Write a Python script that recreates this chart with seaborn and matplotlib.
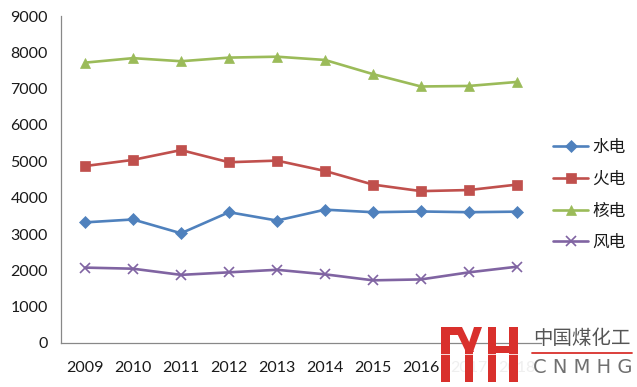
import matplotlib
matplotlib.use("Agg")
import matplotlib.pyplot as plt
from matplotlib.patches import Polygon
from matplotlib.transforms import Affine2D
import seaborn as sns
import pandas as pd

years = ["2009", "2010", "2011", "2012", "2013", "2014", "2015", "2016", "2017", "2018"]
hydro = [3320, 3400, 3020, 3600, 3370, 3670, 3600, 3620, 3600, 3615]
thermal = [4870, 5040, 5310, 4975, 5020, 4735, 4360, 4180, 4210, 4360]
nuclear = [7716, 7840, 7755, 7855, 7880, 7790, 7400, 7060, 7075, 7185]
wind = [2075, 2045, 1875, 1945, 2015, 1890, 1725, 1750, 1945, 2100]

series_names = ["水电", "火电", "核电", "风电"]
series_vals = [hydro, thermal, nuclear, wind]
colors = ["#4F81BD", "#C0504D", "#9BBB59", "#8064A2"]
markers = ["D", "s", "^", "x"]
msizes = [6, 7.5, 7.5, 7]

rows = []
for name, vals in zip(series_names, series_vals):
    for i, (y, v) in enumerate(zip(years, vals)):
        rows.append({"year": y, "pos": i, "value": v, "type": name})
df = pd.DataFrame(rows)

sns.set_style("white")
plt.rcParams["font.family"] = ["Noto Sans CJK SC", "DejaVu Sans"]

W, H = 637, 387
fig = plt.figure(figsize=(W / 100, H / 100), dpi=100)
ax = fig.add_axes([61 / W, 1 - 343 / H, 480 / W, 327 / H])

for name, c, m, ms in zip(series_names, colors, markers, msizes):
    sub = df[df["type"] == name]
    sns.lineplot(data=sub, x="pos", y="value", ax=ax, color=c, marker=m,
                 markersize=ms, linewidth=1.9, label=name,
                 markeredgecolor=c, markeredgewidth=1.2 if m == "x" else 0.5)

num_font = "Lato"
ax.set_xlim(-0.5, 9.5)
ax.set_ylim(0, 9000)
ax.set_yticks(range(0, 9001, 1000))
ax.set_yticklabels([str(v) for v in range(0, 9001, 1000)], fontsize=11.5,
                   color="#1a1a1a", family=num_font)
ax.set_xticks([i + 0.5 for i in range(-1, 10)], minor=False)
ax.set_xticklabels([])
ax.set_xticks(range(10), minor=True)
ax.set_xticklabels(years, minor=True, fontsize=11.5, color="#1a1a1a", family=num_font)
ax.tick_params(axis="x", which="minor", length=0, pad=13)
ax.tick_params(axis="x", which="major", length=4.5, width=0.8, color="#888888", direction="out")
ax.tick_params(axis="y", length=6.5, width=0.8, color="#888888", direction="out", pad=3)
for lab in ax.xaxis.get_minorticklabels()[8:]:
    lab.set_color("#efefef")
ax.set_xlabel("")
ax.set_ylabel("")
for s in ["top", "right"]:
    ax.spines[s].set_visible(False)
for s in ["left", "bottom"]:
    ax.spines[s].set_color("#888888")
    ax.spines[s].set_linewidth(0.9)

leg = ax.legend(loc="center left", bbox_to_anchor=(1.012, 0.452), frameon=False,
                fontsize=12, handlelength=2.1, labelspacing=0.88, handletextpad=0.25,
                borderaxespad=0.0)
for t in leg.get_texts():
    t.set_color("#1a1a1a")

# watermark (pixel coordinates, origin top-left)
pix = Affine2D().scale(1 / W, -1 / H).translate(0, 1) + fig.transFigure
red = "#D9302C"
shapes = [
    [(441, 327), (450, 327), (450, 382), (441, 382)],            # left bar
    [(441, 327), (462, 327), (462, 335), (441, 335)],            # top bar
    [(454, 327), (462, 327), (474, 352), (466, 352)],            # Y left arm
    [(474, 327), (482, 327), (473, 352), (466, 352)],            # Y right arm
    [(465, 349), (473, 349), (473, 382), (465, 382)],            # Y stem
    [(488, 327), (496, 327), (496, 382), (488, 382)],            # H left
    [(509, 327), (518, 327), (518, 382), (509, 382)],            # H right
    [(488, 346), (518, 346), (518, 353), (488, 353)],            # H bar
]
for pts in shapes:
    fig.add_artist(Polygon(pts, closed=True, facecolor=red, edgecolor="none",
                           transform=pix))
fig.add_artist(Polygon([(440, 353.5), (520, 353.5), (520, 355), (440, 355)], closed=True,
                       facecolor="#ffffff", edgecolor="none", alpha=0.8, transform=pix))
fig.text(533 / W, 1 - 349 / H, "中国煤化工", fontsize=14, color="#555555",
         ha="left", va="bottom")
fig.add_artist(plt.Line2D([532, 632], [352.5, 352.5], color=red, lw=1.3, transform=pix))
fig.text(533 / W, 1 - 377 / H, "C N M H G", fontsize=14, color="#707070",
         ha="left", va="bottom", family="DejaVu Sans")

fig.savefig("out.png", dpi=100)
